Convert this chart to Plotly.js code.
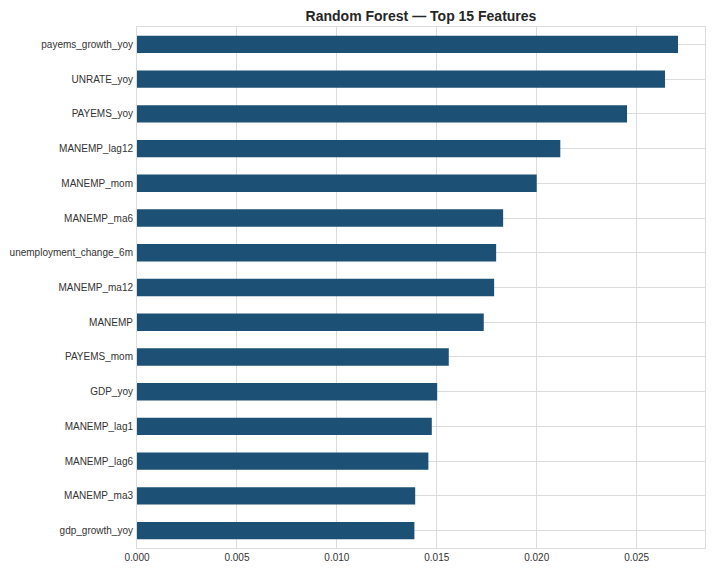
<!DOCTYPE html>
<html>
<head>
<meta charset="utf-8">
<script src="https://cdn.plot.ly/plotly-3.0.1.min.js"></script>
<style>
  body { margin: 0; background: #fff; }
  #chart { width: 716px; height: 573px; }
</style>
</head>
<body>
<div id="chart"></div>
<script>
// features, top to bottom as drawn
const features = [
  "payems_growth_yoy", "UNRATE_yoy", "PAYEMS_yoy", "MANEMP_lag12", "MANEMP_mom",
  "MANEMP_ma6", "unemployment_change_6m", "MANEMP_ma12", "MANEMP", "PAYEMS_mom",
  "GDP_yoy", "MANEMP_lag1", "MANEMP_lag6", "MANEMP_ma3", "gdp_growth_yoy"
];
const importance = [
  0.02707, 0.02642, 0.02452, 0.02118, 0.02000,
  0.01832, 0.01797, 0.01787, 0.01735, 0.01560,
  0.01502, 0.01475, 0.01458, 0.01392, 0.01388
];
const xTicks = [0, 0.005, 0.010, 0.015, 0.020, 0.025];

const barColor = "#1c5074";
const gridColor = "#dcdcdc";

Plotly.newPlot(
  "chart",
  [
    {
      type: "bar",
      orientation: "h",
      x: importance,
      y: features,
      width: 0.5,
      marker: { color: barColor, line: { width: 0 } },
      hoverinfo: "x+y",
    },
  ],
  {
    width: 716,
    height: 573,
    paper_bgcolor: "#fff",
    plot_bgcolor: "#fff",
    margin: { l: 137, r: 11, t: 27, b: 25 },
    showlegend: false,
    font: { family: "Liberation Sans, Arial, sans-serif", size: 10, color: "#333" },
    title: {
      text: "<b>Random Forest — Top 15 Features</b>",
      font: { size: 14, color: "#262626" },
      x: 0.5880,
      xanchor: "center",
      y: 0.972,
      yanchor: "middle",
    },
    xaxis: {
      range: [0, 0.02842],
      tickvals: xTicks,
      ticktext: xTicks.map((v) => v.toFixed(3)),
      showgrid: true,
      gridcolor: gridColor,
      gridwidth: 1,
      zeroline: false,
      showline: true,
      linecolor: gridColor,
      mirror: true,
      ticks: "",
      ticklen: 0,
      tickfont: { size: 10, color: "#333" },
    },
    yaxis: {
      autorange: false,
      range: [14.5, -0.5],
      type: "category",
      showgrid: true,
      gridcolor: gridColor,
      gridwidth: 1,
      zeroline: false,
      showline: true,
      linecolor: gridColor,
      mirror: true,
      ticks: "",
      ticklen: 0,
      ticklabelstandoff: 1,
      tickfont: { size: 10, color: "#333" },
    },
    bargap: 0.5,
  },
  { displayModeBar: false, staticPlot: true }
);
</script>
</body>
</html>
